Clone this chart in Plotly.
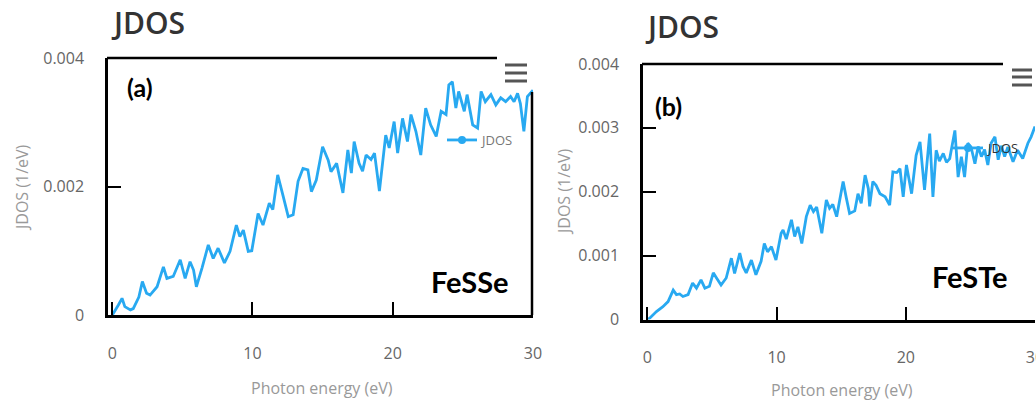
import plotly.graph_objects as go

W, H = 1036, 405

# ---- data (JDOS values in units of 1e-4 1/eV) ----
energy_a = [0.0, 0.1, 0.45, 0.7, 0.9, 1.3, 1.5, 1.9, 2.15, 2.45, 2.7, 3.2, 3.65, 3.9, 4.35, 4.85,
            5.2, 5.55, 5.8, 6.0, 6.4, 6.85, 7.2, 7.55, 8.0, 8.4, 8.85, 9.1, 9.35, 9.7, 9.95, 10.4,
            10.75, 11.2, 11.45, 11.8, 12.2, 12.55, 12.9, 13.25, 13.6, 13.95, 14.2, 14.55, 15.0,
            15.4, 15.6, 16.0, 16.45, 16.8, 17.05, 17.25, 17.6, 17.85, 18.1, 18.45, 18.7, 19.05,
            19.5, 19.75, 20.1, 20.35, 20.7, 21.05, 21.3, 21.65, 22.0, 22.35, 22.7, 23.1, 23.45,
            23.8, 24.0, 24.25, 24.5, 24.7, 25.1, 25.3, 25.7, 26.05, 26.3, 26.6, 27.0, 27.35, 27.7,
            28.05, 28.4, 28.65, 28.9, 29.1, 29.35, 29.6, 29.8, 30.0]
jdos_a_e4 = [0.0, 0.3, 1.6, 2.6, 1.3, 0.8, 1.0, 2.8, 5.2, 3.4, 3.1, 4.4, 7.5, 5.7, 6.0, 8.6,
             5.7, 8.3, 7.0, 4.4, 7.3, 10.9, 8.8, 10.4, 8.1, 9.9, 14.0, 12.2, 13.2, 9.9, 10.0, 15.8,
             14.0, 17.4, 16.4, 21.8, 18.4, 15.3, 15.6, 20.8, 22.8, 22.6, 19.2, 21.0, 26.2,
             24.1, 22.3, 23.6, 19.0, 25.7, 22.1, 27.0, 23.6, 22.4, 24.9, 24.2, 25.2, 19.3,
             28.0, 26.0, 30.1, 25.2, 30.6, 27.0, 31.2, 28.6, 24.9, 32.2, 29.6, 27.8, 31.7,
             31.2, 35.8, 36.3, 32.2, 34.8, 31.7, 34.3, 29.6, 29.1, 34.8, 33.2, 34.3, 32.7, 33.8,
             33.2, 34.0, 33.2, 34.5, 32.9, 28.6, 34.0, 34.5, 35.0]

energy_b = [0.0, 0.18, 0.7, 1.2, 1.6, 2.0, 2.25, 2.5, 2.75, 3.15, 3.5, 3.8, 4.15, 4.45, 4.8, 5.1,
            5.35, 5.7, 6.1, 6.5, 6.75, 7.15, 7.4, 7.65, 8.05, 8.4, 8.8, 9.05, 9.3, 9.6, 9.95,
            10.35, 10.5, 10.75, 11.15, 11.4, 11.65, 11.95, 12.3, 12.6, 12.85, 13.1, 13.5, 13.85,
            14.1, 14.35, 14.65, 15.15, 15.4, 15.65, 16.05, 16.3, 16.55, 16.85, 17.1, 17.2, 17.45,
            17.7, 18.0, 18.4, 18.75, 19.0, 19.3, 19.55, 19.8, 20.05, 20.45, 20.8, 21.1, 21.45,
            21.85, 22.1, 22.35, 22.6, 22.9, 23.15, 23.4, 23.8, 24.05, 24.3, 24.55, 24.8, 25.05,
            25.35, 25.6, 25.85, 26.1, 26.35, 26.6, 26.9, 27.15, 27.4, 27.65, 27.9, 28.3, 28.65,
            29.05, 29.45, 29.7, 30.0]
jdos_b_e4 = [0.0, 0.2, 1.25, 2.0, 2.8, 4.6, 3.9, 4.0, 3.6, 3.9, 5.7, 4.9, 6.2, 4.9, 5.2, 7.3,
             6.5, 5.4, 6.5, 9.6, 7.2, 10.4, 8.3, 7.3, 9.3, 7.0, 9.1, 11.9, 10.6, 11.4, 9.3,
             13.5, 14.0, 12.6, 15.6, 13.0, 14.5, 11.9, 16.1, 17.9, 16.9, 17.6, 13.5, 18.7,
             17.4, 18.0, 16.1, 21.6, 19.0, 16.6, 17.0, 19.7, 18.2, 22.6, 20.5, 17.7, 21.6,
             21.0, 19.7, 19.2, 17.9, 23.1, 23.0, 23.6, 19.2, 24.2, 19.7, 25.7, 27.8, 20.3,
             29.1, 19.2, 26.5, 24.8, 26.0, 24.6, 25.2, 29.6, 22.3, 25.5, 22.3, 27.6, 27.0,
             24.4, 27.1, 25.5, 26.6, 24.2, 27.6, 28.6, 25.0, 27.2, 25.5, 27.0, 24.7, 26.5,
             25.2, 27.6, 28.6, 30.2]

panel_titles = ["JDOS", "JDOS"]
panel_tags = ["(a)", "(b)"]
materials = ["FeSSe", "FeSTe"]
x_title = "Photon energy (eV)"
y_title = "JDOS (1/eV)"
series_name = "JDOS"

LINE = "#28A9F1"


def px(x):
    return x / W


def py(y):
    return 1 - y / H


fig = go.Figure()

for i, (ex, vy) in enumerate([(energy_a, jdos_a_e4), (energy_b, jdos_b_e4)]):
    xa = "x" if i == 0 else "x2"
    ya = "y" if i == 0 else "y2"
    lg = "legend" if i == 0 else "legend2"
    fig.add_trace(go.Scatter(x=ex, y=[v * 1e-4 for v in vy], mode="lines",
                             line=dict(color=LINE, width=2.8), xaxis=xa, yaxis=ya,
                             showlegend=False, name=series_name))
    fig.add_trace(go.Scatter(x=[None], y=[None], mode="lines+markers",
                             line=dict(color=LINE, width=2.8),
                             marker=dict(color=LINE, size=8, symbol="circle"),
                             xaxis=xa, yaxis=ya, name=series_name, legend=lg,
                             showlegend=True))

# domains (pixel based)
ax_px = [(108, 533, 58, 315), (643, 1035, 64, 319.5)]
ranges_x = [[-0.3, 30.0], [-0.34, 30.0]]
dticks_y = [0.002, 0.001]

tickfont = dict(family="Open Sans", size=16, color="#666")
for i, (l, r, t, b) in enumerate(ax_px):
    sx = "" if i == 0 else "2"
    fig.update_layout(**{
        f"xaxis{sx}": dict(domain=[px(l), px(r)], range=ranges_x[i], anchor=f"y{sx}",
                           automargin=False, ticklabeloverflow="allow",
                           showgrid=False, zeroline=False, showline=True, linecolor="black",
                           linewidth=2.5, ticks="inside", ticklen=13, tickwidth=2,
                           tickcolor="black", dtick=10, tick0=0, tickfont=tickfont,
                           ticklabelstandoff=22),
        f"yaxis{sx}": dict(domain=[py(b), py(t)], range=[0, 0.004], anchor=f"x{sx}",
                           automargin=False,
                           showgrid=False, zeroline=False, showline=True, linecolor="black",
                           linewidth=2.5, ticks="inside", ticklen=13, tickwidth=2,
                           tickcolor="black", dtick=dticks_y[i], tick0=0,
                           tickformat=".3~f", tickfont=tickfont, ticklabelstandoff=18),
    })

shapes = []
# partial top frame lines and right frame (panel a)
shapes.append(dict(type="line", xref="paper", yref="paper", x0=px(107), x1=px(497),
                   y0=py(58), y1=py(58), line=dict(color="black", width=2.5)))
shapes.append(dict(type="line", xref="paper", yref="paper", x0=px(532), x1=px(532),
                   y0=py(92), y1=py(315), line=dict(color="black", width=2.5)))
shapes.append(dict(type="line", xref="paper", yref="paper", x0=px(642), x1=px(1003),
                   y0=py(64), y1=py(64), line=dict(color="black", width=2.5)))
# menu icons
for (x0, x1, ys) in [(505, 527, (65, 73, 81)), (1012, 1032, (70, 77, 85))]:
    for yy in ys:
        shapes.append(dict(type="line", xref="paper", yref="paper", x0=px(x0), x1=px(x1),
                           y0=py(yy), y1=py(yy), line=dict(color="#555", width=3)))

annotations = []
for (xx, yy, txt) in [(109, 22, panel_titles[0]), (643, 27, panel_titles[1])]:
    annotations.append(dict(x=px(xx), y=py(yy), xref="paper", yref="paper", text=txt,
                            showarrow=False, xanchor="left", yanchor="middle",
                            font=dict(family="Open Sans", size=30, color="#333", weight=600)))
for (xx, yy, txt, sz) in [(140, 87, panel_tags[0], 25), (668, 106, panel_tags[1], 25),
                          (470, 281, materials[0], 29), (970, 276, materials[1], 29)]:
    annotations.append(dict(x=px(xx), y=py(yy), xref="paper", yref="paper", text=txt,
                            showarrow=False, xanchor="center", yanchor="middle",
                            font=dict(family="Lato", size=sz, color="black", weight="bold")))
for (xx, yy) in [(322, 388), (842, 390)]:
    annotations.append(dict(x=px(xx), y=py(yy), xref="paper", yref="paper", text=x_title,
                            showarrow=False, xanchor="center", yanchor="middle",
                            font=dict(family="Open Sans", size=16, color="#999")))
for (xx, yy) in [(22, 188), (564, 192)]:
    annotations.append(dict(x=px(xx), y=py(yy), xref="paper", yref="paper", text=y_title,
                            showarrow=False, xanchor="center", yanchor="middle", textangle=-90,
                            font=dict(family="Open Sans", size=16, color="#999")))

fig.update_layout(
    width=W, height=H, margin=dict(l=0, r=0, t=0, b=0, autoexpand=False),
    paper_bgcolor="white", plot_bgcolor="white",
    shapes=shapes, annotations=annotations,
    legend=dict(x=px(442), y=py(140), xanchor="left", yanchor="middle",
                bgcolor="rgba(0,0,0,0)", font=dict(family="Open Sans", size=13, color="#777")),
    legend2=dict(x=px(948), y=py(148), xanchor="left", yanchor="middle",
                 bgcolor="rgba(0,0,0,0)", font=dict(family="Open Sans", size=13, color="#333")),
)

fig.write_html("out.html")
